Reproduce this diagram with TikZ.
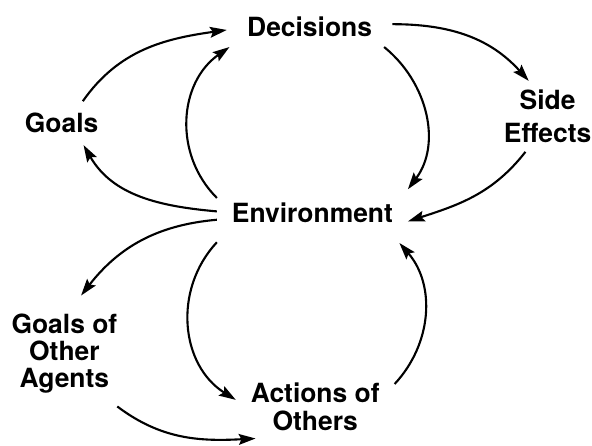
\documentclass[tikz,border=0pt]{standalone}
\usepackage{fontspec}
\setmainfont{TeX Gyre Heros}
\usetikzlibrary{arrows.meta}

\begin{document}
\begin{tikzpicture}[
    term/.style={font=\fontsize{18.8}{19.5}\selectfont\bfseries, align=center, outer sep=0pt},
    link/.style={-{Stealth[length=0.42cm,width=0.27cm,inset=0.07cm]}, line width=1.5pt}
  ]
    \path[use as bounding box] (0,0) rectangle (14.8,11.15);

    \node (decisions-label) at (7.74,10.23) [term, anchor=base, inner xsep=0.51cm, inner ysep=0.25cm] {Decisions};
    \node (goals-label) at (1.54,7.83) [term, anchor=base, inner xsep=0.25cm, inner ysep=0.3cm] {Goals};
    \node (side-label) at (13.69,8.24) [term, inner sep=0.225cm] {Side\\[4pt]Effects};
    \node (environment-label) at (7.81,5.58) [term, anchor=base, inner xsep=0.375cm, inner ysep=0.5cm] {Environment};
    \node (others-goals-label) at (1.61,2.31) [term, inner xsep=0cm, inner ysep=0.45cm] {Goals of\\Other\\Agents};
    \node (others-actions-label) at (7.88,0.98) [term, inner xsep=0.375cm, inner ysep=0.2cm] {Actions of\\Others};

    % upper loop
    \draw [link] (goals-label.46) to[out=55,in=188] (decisions-label.182);
    \draw [link] (environment-label.171) to[out=135,in=215,looseness=1.05] (decisions-label.194);
    \draw [link] (decisions-label.345) to[out=-39,in=53] (environment-label.14);
    \draw [link] (decisions-label.2) to[out=0,in=132] (side-label.118);
    \draw [link] (side-label.238) to[out=232,in=18] (environment-label.355);
    \draw [link] (environment-label.179) to[out=175,in=-60] (goals-label.315);

    % lower loop
    \draw [link] (environment-label.184) to[out=185,in=52] (others-goals-label.74);
    \draw [link] (environment-label.197) to[out=227,in=148,looseness=1.05] (others-actions-label.175);
    \draw [link] (others-actions-label.16) to[out=47,in=-49] (environment-label.341);
    \draw [link] (others-goals-label.315) to[out=-37,in=183] (others-actions-label.208);
  \end{tikzpicture}
\end{document}
